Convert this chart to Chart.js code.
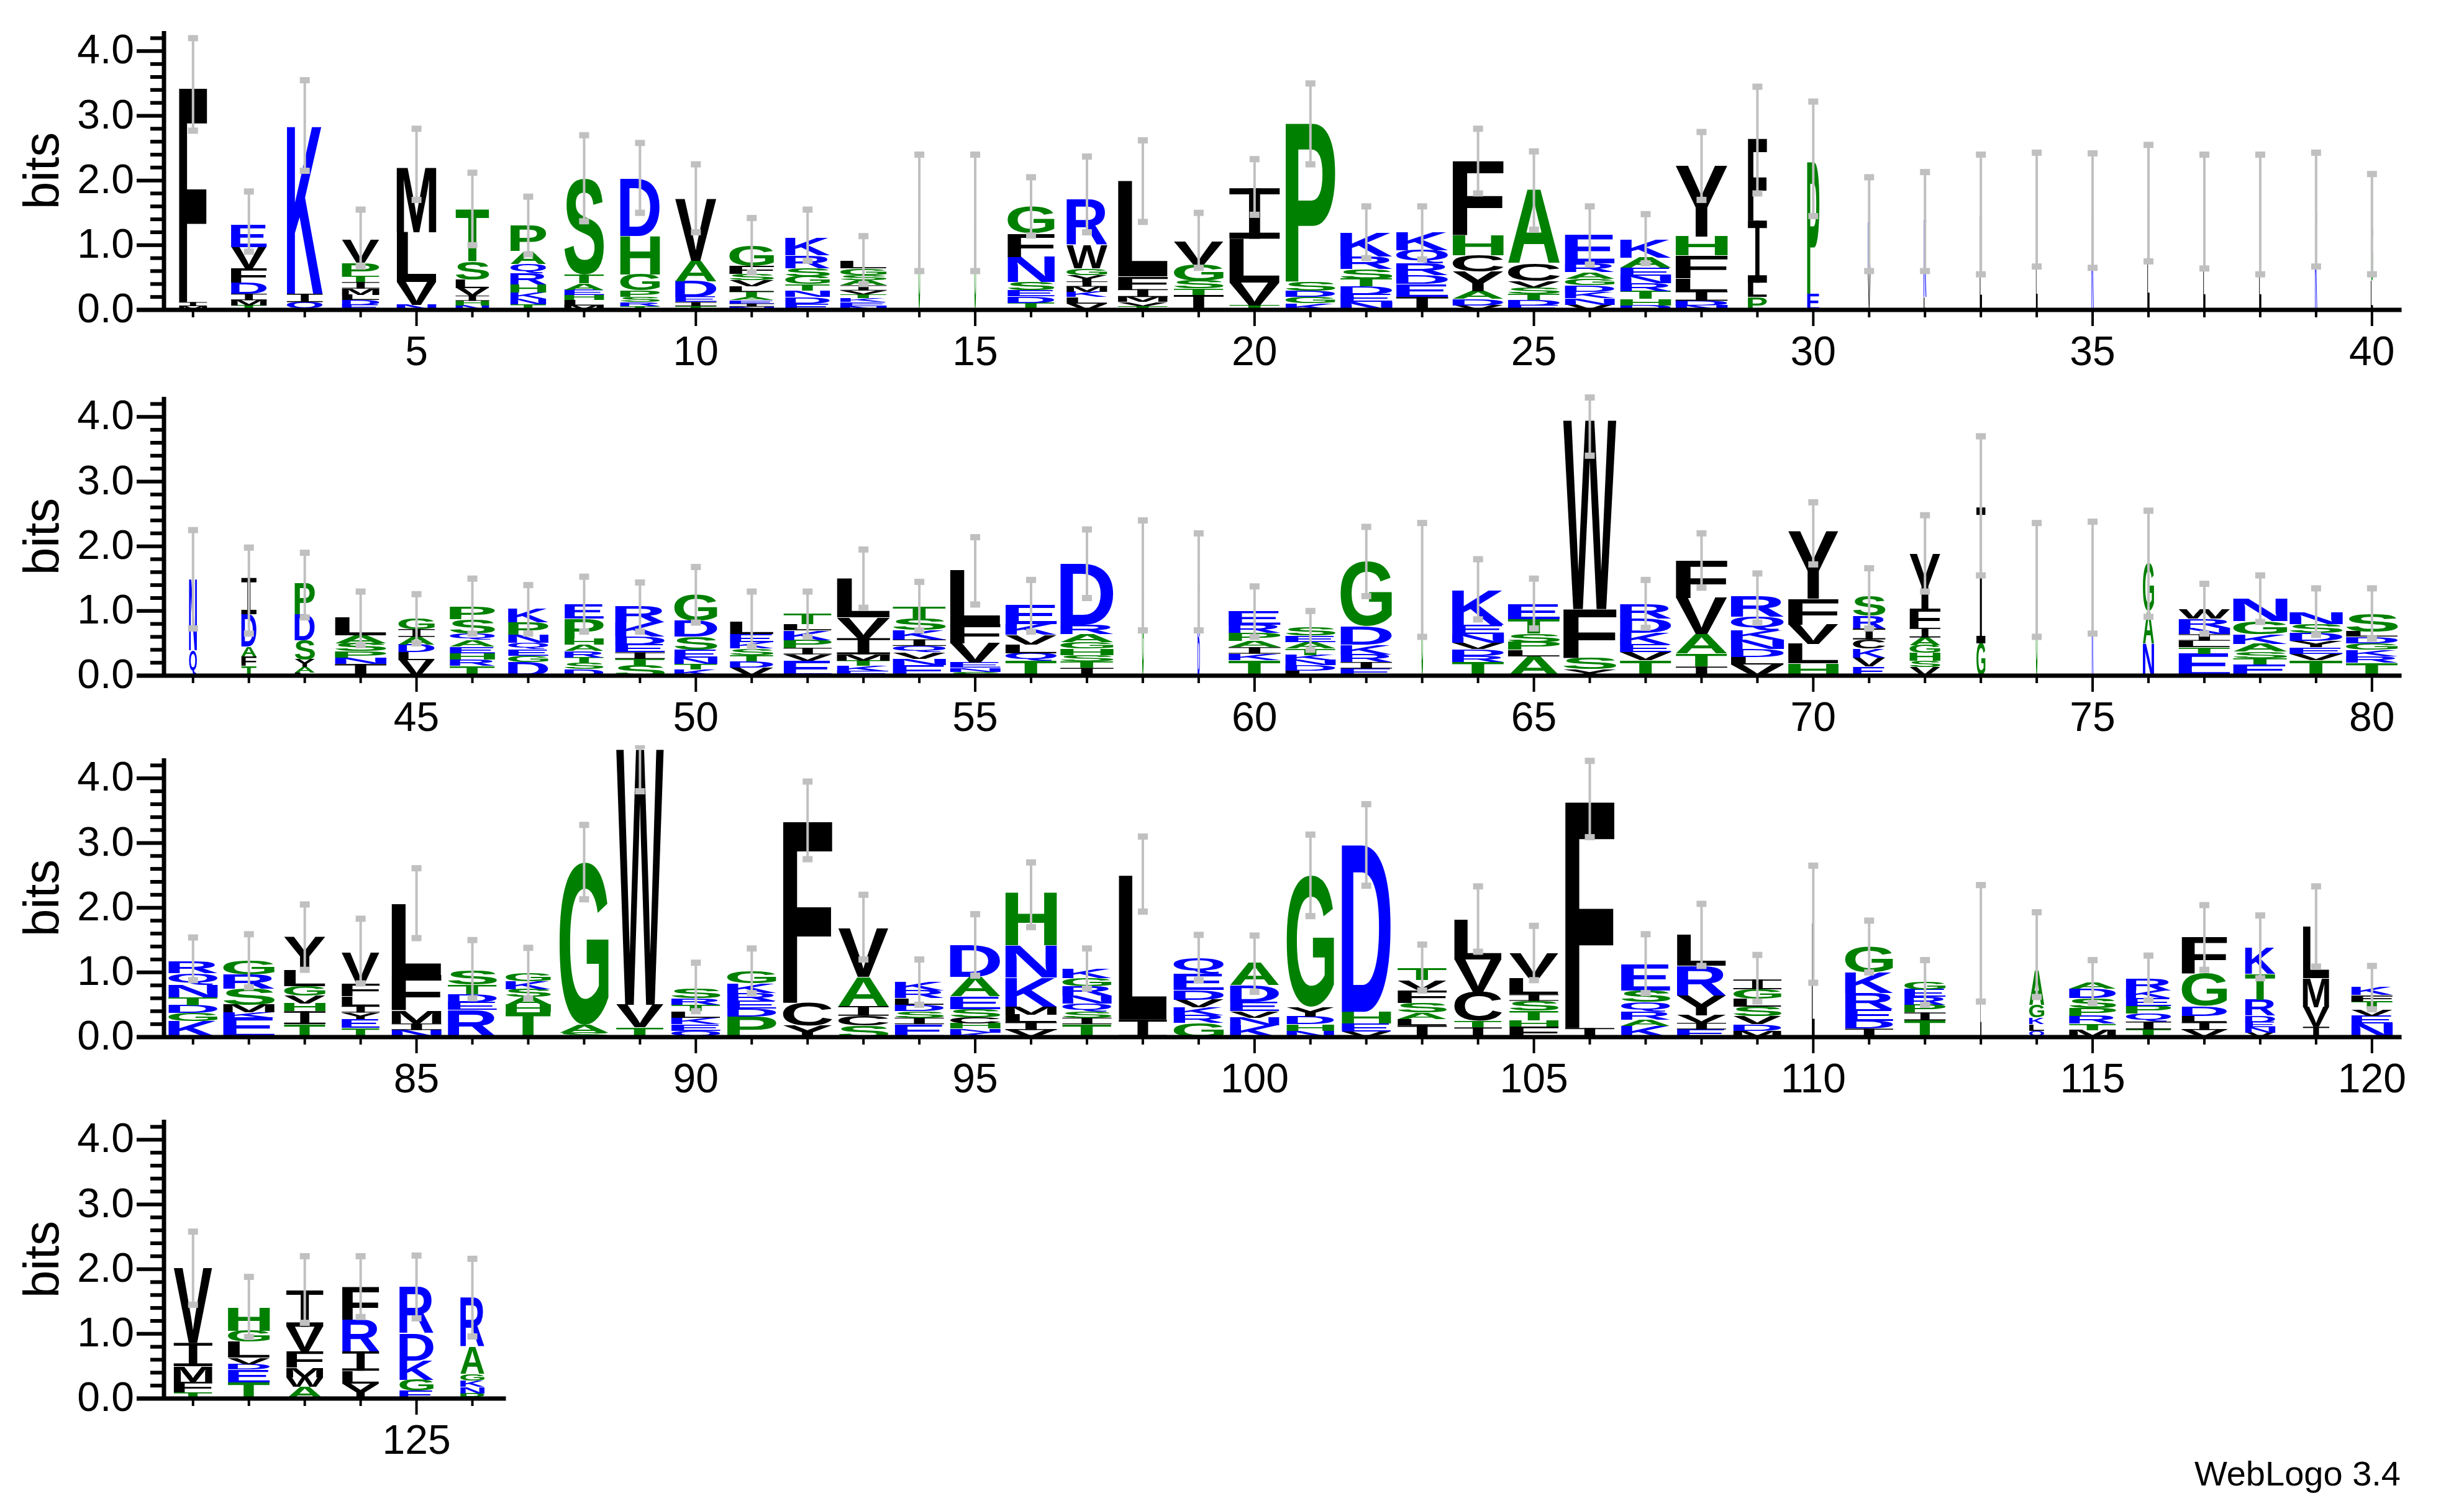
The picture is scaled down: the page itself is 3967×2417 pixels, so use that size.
<!DOCTYPE html>
<html><head><meta charset="utf-8">
<script src="https://cdn.jsdelivr.net/npm/chart.js@4/dist/chart.umd.min.js"></script>
<style>
html,body{margin:0;padding:0;background:#fff;}
#wrap{position:relative;width:3967px;height:2417px;background:#fff;overflow:hidden;}
canvas{position:absolute;left:0;}
#credit{position:absolute;right:102px;top:2340px;font:56px "Liberation Sans",Arial,sans-serif;color:#000;}
</style></head>
<body><div id="wrap"><div id="credit">WebLogo 3.4</div></div>
<script>
// ---- DATA (positions 1..126) ----
const stackLetters = [
"FIM","EVFDIMT","KIQ","VPTIMLDE","MLVN","TSLVIHN","PAQRHKNT","STAEHLM","DHGPSRT","VADEIT",
"GFSVLTAEIN","KRSGTNDE","LGSAIVTKEN","G","G","GFNSEDT","RWGYIMKLV","LFIMVT","VGSTI","ILVT",
"PSDGK","KRSTDEN","KQRDEI","FHCYADV","ACVSTDE","ERAGDKNV","KAENRTHD","YHFLIDN","FILP","PE",
"KV","KL","L","L","K","L","L","L","K","SL",
"NQ","IDAFT","PDSYAL","LASPNI","GIADLV","PSQAEHRT","KPNQEGD","EPHARTSD","RKDEITS","GDSENTK",
"LEKSTDV","TLKPIVE","LVIMTKE","TSKIQVNE","LFVENS","EKVLQT","DRAGHSTI","G","KD","ERPAIKT",
"SEATKNDL","GDKRIE","G","KENVDRT","ETSPLA","WFSY","RDKEVT","FVATI","RQKNDLV","YFVLH",
"SRICKVE","YFIAGHSV","IG","G","K","GAN","WRNILTE","NGKASTE","NSDYEVT","SLDGKRT",
"RQNTDGK","GRSMKE","YLGVHIT","VFLIYET","LFMIN","STDER","GKSAHT","GAS","WVT","SRTLKEQ",
"GKREDP","FCY","VAICS","KRLDSIE","DAESCHNK","HNKMLIV","KGRNQSIT","LI","QEDVKRG","ADEVNK",
"GYDHN","DHEV","TVFSALI","LVCTI","VLISTHF","FI","ESQRAK","LRYVIE","IGLSVDM","L",
"GKREDI","GERPIT","L","AGKLQ","ADSPRTM","RKEPQIT","FGDLIV","KTRDENV","LMVI","KFTVEN",
"VIMFT","HGLVDET","IVFMWA","FRILY","RDKGE","RAGKNP"
];
const stackHeights = [
[3.33,.06,.06],[.34,.33,.22,.17,.1,.08,.07],[2.6,.13,.12],[.35,.2,.1,.1,.1,.08,.07,.08],[1.0,.77,.35,.08],
[.8,.28,.13,.12,.08,.07,.07],[.4,.2,.15,.17,.12,.1,.08,.09],[1.48,.14,.1,.08,.08,.08,.07],[.89,.59,.25,.1,.08,.06,.06],[.96,.32,.24,.08,.06,.06],
[.32,.12,.1,.1,.08,.08,.05,.05,.05,.05],[.27,.2,.12,.12,.1,.1,.1,.1],[.11,.1,.08,.08,.08,.06,.06,.06,.06,.06],[1.5],[1.5],
[.42,.36,.39,.12,.1,.1,.11],[.7,.36,.1,.1,.08,.08,.08,.1,.1],[1.48,.2,.12,.08,.06,.06],[.35,.25,.12,.1,.23],[.78,.68,.35,.07],
[2.46,.14,.1,.1,.1],[.37,.2,.15,.12,.12,.12,.12],[.28,.2,.18,.14,.2,.2],[1.15,.31,.25,.3,.12,.1,.07],[1.14,.27,.1,.1,.1,.08,.07],
[.44,.14,.1,.1,.1,.1,.1,.08],[.28,.16,.12,.12,.12,.12,.1,.07],[1.1,.29,.35,.2,.15,.07,.07],[1.27,.96,.22,.2],[2.05,.25],
[.7,.65],[1.2,.2],[1.45],[1.55],[1.5],[1.65],[1.5],[1.5],[1.5],[.9,.45],
[1.1,.39],[.56,.5,.15,.15,.15],[.48,.4,.3,.12,.08,.05],[.28,.12,.12,.1,.1,.18],[.16,.12,.12,.12,.12,.24],
[.2,.22,.1,.1,.1,.1,.1,.15],[.21,.2,.12,.1,.1,.1,.21],[.22,.3,.1,.1,.1,.08,.1,.1],[.25,.22,.12,.12,.1,.1,.16],[.4,.25,.2,.12,.1,.08,.1],
[.19,.12,.1,.1,.1,.1,.12],[.16,.1,.15,.12,.1,.1,.23],[.6,.32,.25,.1,.08,.08,.07],[.19,.17,.15,.1,.1,.1,.1,.16],[.83,.3,.3,.08,.06,.06],
[.29,.17,.15,.13,.12,.23],[.94,.15,.12,.1,.1,.1,.1,.12],[1.55],[.8,.6],[.21,.13,.12,.1,.1,.1,.24],
[.12,.1,.1,.1,.08,.08,.08,.08],[1.0,.28,.15,.12,.1,.11],[1.5],[.53,.15,.13,.1,.1,.1,.21],[.23,.22,.13,.12,.1,.3],
[2.92,.76,.17,.1],[.22,.22,.18,.12,.12,.24],[.58,.56,.3,.2,.14],[.32,.2,.15,.15,.12,.12,.17],[1.04,.4,.3,.3,.19],
[.3,.2,.17,.14,.14,.14,.14],[.85,.3,.15,.12,.12,.12,.1,.13],[2.1,.5],[1.5],[1.55],[.74,.5,.5],
[.15,.14,.1,.1,.1,.1,.34],[.34,.2,.15,.12,.1,.1,.17],[.18,.14,.12,.1,.1,.1,.24],[.28,.08,.1,.1,.1,.1,.2],
[.19,.18,.2,.12,.12,.12,.25],[.21,.22,.25,.12,.08,.3],[.51,.25,.15,.12,.12,.2,.2],[.48,.2,.15,.1,.1,.14,.14],[1.1,.55,.2,.1,.11],
[.21,.15,.12,.12,.42],[.13,.12,.12,.12,.12,.38],[2.51,.12,.07],[3.95,.35,.15],[.15,.1,.1,.1,.1,.1,.1],
[.19,.15,.12,.12,.12,.32],[2.82,.35,.18],[.75,.45,.15,.15,.18],[.13,.12,.1,.1,.1,.1,.2],[.49,.3,.2,.12,.1,.08,.06,.07],
[.82,.5,.45,.12,.12,.12,.11],[.15,.12,.15,.12,.12,.1,.1,.2],[2.23,.27],[.24,.25,.15,.12,.12,.12,.22],[.34,.25,.15,.1,.12,.18],
[2.03,.15,.12,.1,.1],[2.58,.18,.12,.09],[.19,.15,.2,.15,.1,.1,.18],[.62,.5,.45,.1,.15],[.38,.25,.1,.15,.15,.1,.16],
[3.52,.14],[.41,.18,.15,.12,.1,.17],[.48,.46,.3,.12,.1,.12],[.15,.15,.12,.15,.12,.1,.1],[1.76],
[.39,.32,.25,.18,.12,.13],[.11,.12,.12,.12,.12,.26],[1.45],[.53,.2,.1,.1,.1],[.1,.15,.15,.12,.12,.1,.11],
[.19,.12,.12,.12,.12,.12,.12],[.57,.5,.15,.1,.12,.11],[.41,.4,.25,.1,.08,.08,.07],[.8,.45,.3,.16],[.12,.1,.12,.1,.12,.21],
[1.16,.36,.24,.16,.1],[.36,.17,.25,.1,.08,.2,.25],[.56,.38,.25,.15,.15,.18],[.51,.49,.3,.2,.23],[.72,.42,.3,.17,.12],[.76,.42,.1,.1,.1,.08]
];
const colWidths = [
.5,.64,.64,.67,.71,.6,.64,.71,.71,.74,.8,.8,.83,.03,.03,.84,.73,.89,.89,.9,
.89,.93,.93,.91,.93,.89,.91,.93,.34,.22,.05,.05,.04,.03,.04,.04,.04,.04,.04,.04,
.14,.27,.36,.92,.65,.81,.72,.7,.89,.77,.78,.86,.95,.95,.9,.92,.95,.03,.04,.93,
.9,.92,.03,.93,.93,.95,.92,.92,.95,.9,.58,.55,.16,.03,.03,.2,.92,.97,.95,.93,
.88,.92,.74,.68,.89,.88,.81,.88,.85,.88,.88,.88,.9,.88,.9,.92,.88,.86,.9,.88,
.85,.88,.88,.85,.88,.88,.88,.88,.86,.05,.86,.74,.02,.27,.84,.81,.81,.54,.47,.74,
.69,.75,.66,.66,.61,.43
];
const errLow = [
2.77,.9,2.15,.67,1.7,1.0,.86,1.37,1.5,1.2,.58,.76,.4,.6,.6,1.15,1.2,1.36,.65,1.47,
2.25,.8,.78,1.8,1.24,.7,.72,1.7,1.8,1.45,.6,.6,.55,.67,.65,.75,.64,.55,.67,.55,
.73,.65,.9,.47,.5,.65,.65,.68,.68,.82,.45,.6,1.05,.7,1.1,.68,1.2,.7,.7,.6,
.4,1.23,.6,.87,.73,3.4,.74,1.36,.82,1.72,.73,1.3,1.55,.6,.65,.91,.65,.83,.63,.57,
.88,.77,1.04,.83,1.53,.6,.6,2.13,3.8,.4,.68,2.75,1.2,.5,.95,1.7,.75,1.94,.88,.7,
1.87,2.34,.72,1.32,.88,3.09,.68,1.1,.55,.84,1.0,.5,.55,.62,.53,.57,1.04,.91,1.09,.43,
1.45,.95,1.17,1.26,1.24,.96
];
const errHigh = [
4.2,1.83,3.55,1.55,2.8,2.12,1.75,2.7,2.58,2.25,1.42,1.55,1.14,2.4,2.4,2.05,2.37,2.62,1.5,2.33,
3.5,1.6,1.6,2.8,2.45,1.6,1.48,2.75,3.45,3.22,2.05,2.13,2.4,2.43,2.42,2.55,2.4,2.4,2.43,2.1,
2.25,1.98,1.9,1.3,1.26,1.5,1.4,1.53,1.44,1.68,1.3,1.3,1.95,1.45,2.14,1.48,2.26,2.4,2.2,1.38,
1.0,2.3,2.36,1.8,1.5,4.3,1.48,2.2,1.58,2.68,1.66,2.48,3.7,2.36,2.38,2.55,1.42,1.55,1.35,1.35,
1.54,1.59,2.05,1.83,2.61,1.5,1.38,3.28,4.5,1.15,1.37,3.95,2.2,1.2,1.9,2.7,1.37,3.1,1.58,1.57,
3.13,3.6,1.43,2.33,1.72,4.27,1.59,2.06,1.27,2.65,1.8,1.19,2.35,1.93,1.19,1.26,2.04,1.88,2.33,1.1,
2.58,1.88,2.2,2.2,2.21,2.16
];
const rowRanges = [[1,40],[41,80],[81,120],[121,126]];
const yTickLabels = ["0.0","1.0","2.0","3.0","4.0"];
const letterColors = {blue:"RKDENQ", green:"SGHTAP", black:"YVMCLFIW"};

// ---- drawing ----
function colorOf(ch){
  if(letterColors.blue.includes(ch)) return "#0000ff";
  if(letterColors.green.includes(ch)) return "#008000";
  return "#000000";
}
const FONT = '700 200px "Liberation Sans", Arial, sans-serif';
function drawGlyph(ctx,ch,x0,x1,yTop,yBot){
  const h=yBot-yTop, w=x1-x0;
  if(h<0.3 || w<0.3) return;
  ctx.save();
  ctx.fillStyle=colorOf(ch);
  if(ch==="I"){
    // serif I-beam as in WebLogo
    const bar=Math.max(1,Math.min(h*0.12, 12)), stem=Math.max(1,w*0.22);
    ctx.fillRect(x0,yTop,w,bar);
    ctx.fillRect(x0,yBot-bar,w,bar);
    ctx.fillRect(x0+(w-stem)/2,yTop,stem,h);
    ctx.restore(); return;
  }
  ctx.font=FONT; ctx.textAlign="left"; ctx.textBaseline="alphabetic";
  const m=ctx.measureText(ch);
  const bx0=-m.actualBoundingBoxLeft, bx1=m.actualBoundingBoxRight;
  const by0=-m.actualBoundingBoxAscent, by1=m.actualBoundingBoxDescent;
  const sx=w/(bx1-bx0), sy=h/(by1-by0);
  ctx.translate(x0-bx0*sx, yTop-by0*sy);
  ctx.scale(sx,sy);
  ctx.fillText(ch,0,0);
  ctx.restore();
}
const logoPlugin = {
  id:"logo",
  afterDatasetsDraw(chart){
    const ctx=chart.ctx, xs=chart.scales.x, ys=chart.scales.y;
    const [p0,p1]=chart.options.plugins.logo.range;
    const unit=xs.getPixelForValue(2)-xs.getPixelForValue(1);
    const y0=ys.getPixelForValue(0);
    for(let p=p0;p<=p1;p++){
      const i=p-1, L=stackLetters[i], H=stackHeights[i];
      const cx=xs.getPixelForValue(p), w=unit*colWidths[i];
      let base=0;
      for(let k=L.length-1;k>=0;k--){
        const top=base+H[k];
        drawGlyph(ctx,L[k],cx-w/2,cx+w/2,ys.getPixelForValue(top),ys.getPixelForValue(base));
        base=top;
      }
    }
    ctx.save();
    ctx.strokeStyle="#c0c0c0"; ctx.fillStyle="#c0c0c0"; ctx.lineWidth=4;
    for(let p=p0;p<=p1;p++){
      const cx=xs.getPixelForValue(p);
      const a=ys.getPixelForValue(errLow[p-1]), b=ys.getPixelForValue(errHigh[p-1]);
      ctx.beginPath(); ctx.moveTo(cx,a); ctx.lineTo(cx,b); ctx.stroke();
      ctx.fillRect(cx-8,a-5,16,10); ctx.fillRect(cx-8,b-5,16,10);
    }
    ctx.restore();
    ctx.save();
    ctx.strokeStyle="#000"; ctx.fillStyle="#000"; ctx.lineWidth=7;
    const left=xs.left, right=xs.right, top=ys.getPixelForValue(ys.max);
    ctx.beginPath(); ctx.moveTo(left,y0+3); ctx.lineTo(left,top); ctx.stroke();
    ctx.beginPath(); ctx.moveTo(left-44,y0); ctx.lineTo(right,y0); ctx.stroke();
    ctx.lineWidth=6;
    for(let v=0;v<=4.21;v+=0.2){
      const y=ys.getPixelForValue(v); const major=Math.abs(v-Math.round(v))<1e-6;
      ctx.beginPath(); ctx.moveTo(left-(major?44:22),y); ctx.lineTo(left,y); ctx.stroke();
    }
    ctx.font='66px "Liberation Sans", Arial, sans-serif';
    ctx.textAlign="right"; ctx.textBaseline="middle";
    yTickLabels.forEach((t,k)=>ctx.fillText(t,left-48,ys.getPixelForValue(k)+2));
    ctx.lineWidth=4;
    ctx.textAlign="center"; ctx.textBaseline="top";
    for(let p=p0;p<=p1;p++){
      const x=xs.getPixelForValue(p), major=p%5===0;
      ctx.beginPath(); ctx.moveTo(x,y0); ctx.lineTo(x,y0+(major?26:12)); ctx.stroke();
      if(major) ctx.fillText(String(p),x,y0+38);
    }
    ctx.save();
    ctx.translate(72,ys.getPixelForValue(2.15));
    ctx.rotate(-Math.PI/2);
    ctx.font='80px "Liberation Sans", Arial, sans-serif';
    ctx.textAlign="center"; ctx.textBaseline="middle";
    ctx.fillText("bits",0,0);
    ctx.restore();
    ctx.restore();
  }
};
Chart.register(logoPlugin);
const rowZero=[499,1088,1670,2252];
const wrap=document.getElementById("wrap");
rowRanges.forEach((r,ri)=>{
  const cv=document.createElement("canvas");
  const H=590, topOff=rowZero[ri]-470;
  cv.style.top=topOff+"px"; cv.style.width="3967px"; cv.style.height=H+"px";
  cv.width=3967; cv.height=H;
  wrap.appendChild(cv);
  const xmin=r[0]-0.52, xmax=(ri<3? r[1]+0.53 : r[1]+0.6);
  const rightPad = 3967-264-(xmax-xmin)*89.95;
  const pts=[]; for(let p=r[0];p<=r[1];p++) pts.push({x:p,y:stackHeights[p-1].reduce((a,b)=>a+b,0)});
  new Chart(cv,{
    type:"scatter",
    data:{datasets:[{data:pts,pointRadius:0,pointHoverRadius:0,showLine:false}]},
    options:{
      responsive:false, animation:false, devicePixelRatio:1,
      layout:{padding:{left:264,right:rightPad,top:21,bottom:120}},
      scales:{
        x:{type:"linear",min:xmin,max:xmax,display:false},
        y:{type:"linear",min:0,max:4.31,display:false}
      },
      plugins:{legend:{display:false},tooltip:{enabled:false},logo:{range:r}}
    }
  });
});
</script>
</body></html>
